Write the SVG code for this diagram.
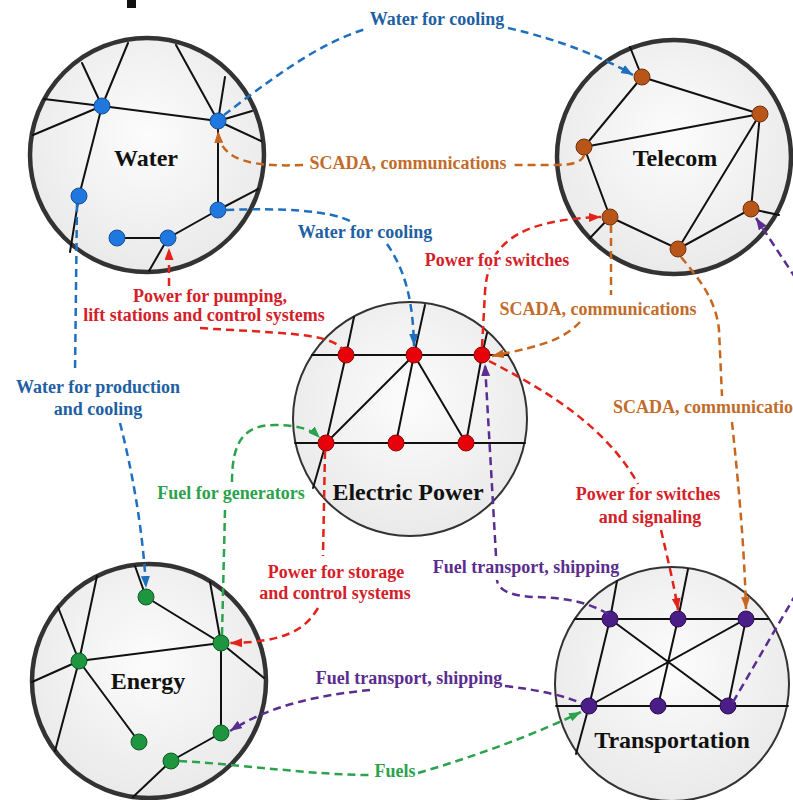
<svg xmlns="http://www.w3.org/2000/svg" width="793" height="800" viewBox="0 0 793 800">
  <defs>
    <radialGradient id="disc" cx="50%" cy="42%" r="60%">
      <stop offset="0" stop-color="#FCFCFC"/>
      <stop offset="1" stop-color="#E9E9E9"/>
    </radialGradient>
    <marker id="aBlue" markerUnits="userSpaceOnUse" markerWidth="13" markerHeight="10" refX="12" refY="4.5" orient="auto"><path d="M0,0 L12,4.5 L0,9 z" fill="#1F6FBF"/></marker>
    <marker id="aOrange" markerUnits="userSpaceOnUse" markerWidth="13" markerHeight="10" refX="12" refY="4.5" orient="auto"><path d="M0,0 L12,4.5 L0,9 z" fill="#C8661E"/></marker>
    <marker id="aRed" markerUnits="userSpaceOnUse" markerWidth="13" markerHeight="10" refX="12" refY="4.5" orient="auto"><path d="M0,0 L12,4.5 L0,9 z" fill="#E2231A"/></marker>
    <marker id="aGreen" markerUnits="userSpaceOnUse" markerWidth="13" markerHeight="10" refX="12" refY="4.5" orient="auto"><path d="M0,0 L12,4.5 L0,9 z" fill="#2BA24C"/></marker>
    <marker id="aPurple" markerUnits="userSpaceOnUse" markerWidth="13" markerHeight="10" refX="12" refY="4.5" orient="auto"><path d="M0,0 L12,4.5 L0,9 z" fill="#5A2D91"/></marker>
  </defs>
  <style>
    .disc { fill: url(#disc); stroke: #333; }
    .thick { stroke-width: 4.5; }
    .thin { stroke-width: 2; }
    .net { stroke: #111; stroke-width: 2; fill: none; stroke-linecap: round; }
    .nd { stroke-width: 1; }
    .w { fill: #1E78E0; stroke: #1A4F8F; }
    .t { fill: #B8561A; stroke: #6E3210; }
    .p { fill: #E8000A; stroke: #8A0A0A; }
    .e { fill: #1E9640; stroke: #0F5A24; }
    .tr { fill: #4B1E87; stroke: #2A0F50; }
    .name { font-family: "Liberation Serif", "Times New Roman", serif; font-weight: bold; font-size: 24px; fill: #111; text-anchor: middle; }
    .lbl { font-family: "Liberation Serif", "Times New Roman", serif; font-weight: bold; font-size: 18px; text-anchor: middle; stroke: #FFFFFF; stroke-width: 5; stroke-linejoin: round; paint-order: stroke; }
    .cB { fill: #1F5FA3; } .cO { fill: #C26C2C; } .cR { fill: #D42028; } .cG { fill: #2BA24C; } .cP { fill: #5A2D8E; }
    .dash { fill: none; stroke-width: 2.5; stroke-dasharray: 8 5; }
    .sB { stroke: #1F6FBF; } .sO { stroke: #C8661E; } .sR { stroke: #E2231A; } .sG { stroke: #2BA24C; } .sP { stroke: #5A2D91; }
  </style>

  <rect width="793" height="800" fill="#FFFFFF"/>
  <!-- descender of the heading line, cut by the top edge -->
  <rect x="127" y="0" width="9" height="8" fill="#111"/>

  <!-- Water -->
  <g id="water">
    <circle class="disc thick" cx="147" cy="155" r="117"/>
    <g class="net">
      <path d="M102,106 L128,43 M102,106 L82,63 M102,106 L44,99 M102,106 L33,135 M102,106 L218,121 M102,106 L79,196 L70,252"/>
      <path d="M218,121 L176,45 M218,121 L225,77 M218,121 L252,111 M218,121 L261,141 M218,121 L218,210 L258,189 M218,210 L168,238 L117,238 M168,238 L149,271"/>
    </g>
    <g class="nd w">
      <circle cx="102" cy="106" r="8"/><circle cx="218" cy="121" r="8"/><circle cx="79" cy="196" r="8"/>
      <circle cx="218" cy="210" r="8"/><circle cx="117" cy="238" r="8"/><circle cx="168" cy="238" r="8"/>
    </g>
    <text class="name" x="146" y="166">Water</text>
  </g>

  <!-- Telecom -->
  <g id="telecom">
    <circle class="disc thick" cx="674" cy="157" r="117"/>
    <g class="net">
      <path d="M642,77 L630,47 M642,77 L760,114 M642,77 L584,147 L760,114 M584,147 L610,217 L590,238 M610,217 L678,249 L760,114 M678,249 L751,209 L760,114 M751,209 L779,215"/>
    </g>
    <g class="nd t">
      <circle cx="642" cy="77" r="8"/><circle cx="760" cy="114" r="8"/><circle cx="584" cy="147" r="8"/>
      <circle cx="610" cy="217" r="8"/><circle cx="678" cy="249" r="8"/><circle cx="751" cy="209" r="8"/>
    </g>
    <text class="name" x="675" y="166">Telecom</text>
  </g>

  <!-- Electric Power -->
  <g id="power">
    <circle class="disc thin" cx="410" cy="419" r="117"/>
    <g class="net">
      <path d="M312,355 L508,355 M295,443 L525,443"/>
      <path d="M346,355 L354,317 M346,355 L326,443 L313,488 M414,355 L425,305 M414,355 L326,443 M414,355 L396,443 M414,355 L466,443 L482,355 L487,333"/>
    </g>
    <g class="nd p">
      <circle cx="346" cy="355" r="8"/><circle cx="414" cy="355" r="8"/><circle cx="482" cy="355" r="8"/>
      <circle cx="326" cy="443" r="8"/><circle cx="396" cy="443" r="8"/><circle cx="466" cy="443" r="8"/>
    </g>
    <text class="name" x="408" y="500">Electric Power</text>
  </g>

  <!-- Energy -->
  <g id="energy">
    <circle class="disc thick" cx="149" cy="681" r="117"/>
    <g class="net">
      <path d="M146,597 L135,566 M146,597 L221,643 L210,582 M221,643 L79,661 M221,643 L264,678 M221,643 L221,733 L171,761 L133,797"/>
      <path d="M79,661 L97,576 M79,661 L58,607 M79,661 L32,682 M79,661 L55,751 M79,661 L139,742"/>
    </g>
    <g class="nd e">
      <circle cx="146" cy="597" r="8"/><circle cx="221" cy="643" r="8"/><circle cx="79" cy="661" r="8"/>
      <circle cx="221" cy="733" r="8"/><circle cx="139" cy="742" r="8"/><circle cx="171" cy="761" r="8"/>
    </g>
    <text class="name" x="148" y="689">Energy</text>
  </g>

  <!-- Transportation -->
  <g id="transportation">
    <circle class="disc thin" cx="672" cy="684" r="117"/>
    <g class="net">
      <path d="M575,619 L769,619 M556,706 L788,706"/>
      <path d="M610,619 L617,581 M610,619 L589,706 L576,754 M610,619 L728,706 L746,619 L589,706 M678,619 L688,569 M678,619 L658,706"/>
    </g>
    <g class="nd tr">
      <circle cx="610" cy="619" r="8"/><circle cx="678" cy="619" r="8"/><circle cx="746" cy="619" r="8"/>
      <circle cx="589" cy="706" r="8"/><circle cx="658" cy="706" r="8"/><circle cx="728" cy="706" r="8"/>
    </g>
    <text class="name" x="672" y="748">Transportation</text>
  </g>

  <!-- dependency connectors -->
  <g id="connectors">
    <!-- water -->
    <path class="dash sB" d="M224,115 C270,80 320,42 366,29"/>
    <path class="dash sB" d="M508,28 C560,40 600,56 633,75" marker-end="url(#aBlue)"/>
    <path class="dash sB" d="M226,210 C280,208 330,210 352,222"/>
    <path class="dash sB" d="M387,244 C405,270 413,300 414,346" marker-end="url(#aBlue)"/>
    <path class="dash sB" d="M77,204 L75,372"/>
    <path class="dash sB" d="M120,423 C132,470 143,530 146,588" marker-end="url(#aBlue)"/>
    <!-- telecom -->
    <path class="dash sO" d="M584,155 C582,163 570,165 555,165 L512,165"/>
    <path class="dash sO" d="M303,165 C255,167 220,162 218,131" marker-end="url(#aOrange)"/>
    <path class="dash sO" d="M611,225 L611,295"/>
    <path class="dash sO" d="M580,322 C565,338 545,346 492,356" marker-end="url(#aOrange)"/>
    <path class="dash sO" d="M681,257 C700,280 716,300 719,330 L722,396"/>
    <path class="dash sO" d="M732,422 C738,480 744,540 746,609" marker-end="url(#aOrange)"/>
    <!-- electric power -->
    <path class="dash sR" d="M200,328 C270,333 330,332 342,349"/>
    <path class="dash sR" d="M169,286 L169,248" marker-end="url(#aRed)"/>
    <path class="dash sR" d="M482,347 L485,292 C488,245 515,220 601,217" marker-end="url(#aRed)"/>
    <path class="dash sR" d="M489,361 C545,390 605,425 638,484"/>
    <path class="dash sR" d="M661,530 C668,560 674,585 678,610" marker-end="url(#aRed)"/>
    <path class="dash sR" d="M325,451 L323,556"/>
    <path class="dash sR" d="M318,608 C305,630 285,642 230,643" marker-end="url(#aRed)"/>
    <!-- energy -->
    <path class="dash sG" d="M222,635 L225,510"/>
    <path class="dash sG" d="M232,482 C232,440 245,425 275,425 C300,425 312,430 320,438" marker-end="url(#aGreen)"/>
    <path class="dash sG" d="M179,761 C250,765 310,775 372,775"/>
    <path class="dash sG" d="M418,773 C480,755 540,732 581,712" marker-end="url(#aGreen)"/>
    <!-- transportation -->
    <path class="dash sP" d="M505,686 C540,690 570,697 582,704"/>
    <path class="dash sP" d="M370,690 C320,695 270,705 230,731" marker-end="url(#aPurple)"/>
    <path class="dash sP" d="M608,614 C585,600 560,598 535,597 C510,596 498,590 497,580"/>
    <path class="dash sP" d="M496,556 L485,364" marker-end="url(#aPurple)"/>
    <path class="dash sP" d="M733,702 L810,570"/>
    <path class="dash sP" d="M810,300 L756,218" marker-end="url(#aPurple)"/>
  </g>

  <!-- connector labels -->
  <g id="labels">
    <text class="lbl cB" x="437" y="25">Water for cooling</text>
    <text class="lbl cO" x="408" y="169">SCADA, communications</text>
    <text class="lbl cB" x="365" y="238">Water for cooling</text>
    <text class="lbl cR" x="497" y="266">Power for switches</text>
    <text class="lbl cR" x="210" y="302">Power for pumping,</text>
    <text class="lbl cR" x="204" y="321">lift stations and control systems</text>
    <text class="lbl cO" x="598" y="315">SCADA, communications</text>
    <text class="lbl cB" x="98" y="393">Water for production</text>
    <text class="lbl cB" x="98" y="415">and cooling</text>
    <text class="lbl cO" x="613" y="413" style="text-anchor:start">SCADA, communications</text>
    <text class="lbl cG" x="231" y="499">Fuel for generators</text>
    <text class="lbl cR" x="648" y="500">Power for switches</text>
    <text class="lbl cR" x="650" y="523">and signaling</text>
    <text class="lbl cP" x="526" y="573">Fuel transport, shipping</text>
    <text class="lbl cR" x="336" y="578">Power for storage</text>
    <text class="lbl cR" x="335" y="599">and control systems</text>
    <text class="lbl cP" x="409" y="684">Fuel transport, shipping</text>
    <text class="lbl cG" x="395" y="777">Fuels</text>
  </g>
</svg>
